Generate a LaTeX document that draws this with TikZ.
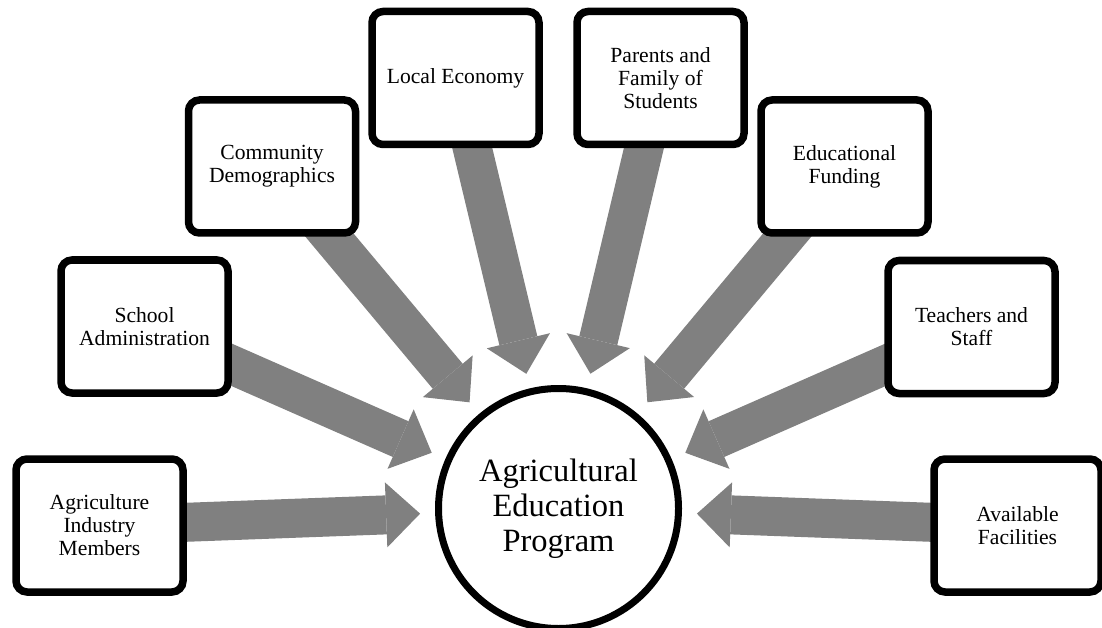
\documentclass[tikz,border=0pt]{standalone}
\usepackage{fontspec}
\setmainfont{Liberation Serif}
\usetikzlibrary{arrows.meta,backgrounds}
\definecolor{arrgray}{HTML}{808080}

\begin{document}
\begin{tikzpicture}[
  x=1pt, y=-1pt,
  box/.style={draw, line width=7.5pt, rounded corners=11pt, fill=white, align=center, inner sep=4pt, minimum width=167pt, minimum height=133pt, font=\fontsize{21.6}{23}\selectfont},
  hub/.style={draw, circle, line width=7pt, fill=white, align=center, inner sep=0pt, minimum size=240pt, font=\fontsize{32.5}{35}\selectfont},
  arr/.style={draw=arrgray, line width=39pt, -{Triangle[line width=0pt, length=34pt, width=65pt]}, shorten >=15pt}
]
\useasboundingbox (0,0) rectangle (1102,628);
\node[hub] (prog) at (558.5,508.5) {Agricultural\\Education\\Program};
\node[box] (agri) at (99.5,525.5) {Agriculture\\Industry\\Members};
\node[box] (school) at (144.5,326.5) {School\\Administration};
\node[box] (demo) at (272,166.5) {Community\\Demographics};
\node[box] (econ) at (455.5,78) {Local Economy};
\node[box] (family) at (660.5,78) {Parents and\\Family of\\Students};
\node[box] (fund) at (844.5,166.5) {Educational\\Funding};
\node[box] (staff) at (971.5,327) {Teachers and\\Staff};
\node[box] (facil) at (1017.5,525.5) {Available\\Facilities};
\begin{scope}[on background layer]
\draw[arr] (agri.center) -- (prog);
\draw[arr] (school.center) -- (prog);
\draw[arr] (demo.center) -- (prog);
\draw[arr] (econ.center) -- (prog);
\draw[arr] (family.center) -- (prog);
\draw[arr] (fund.center) -- (prog);
\draw[arr] (staff.center) -- (prog);
\draw[arr] (facil.center) -- (prog);
\end{scope}
\end{tikzpicture}
\end{document}
